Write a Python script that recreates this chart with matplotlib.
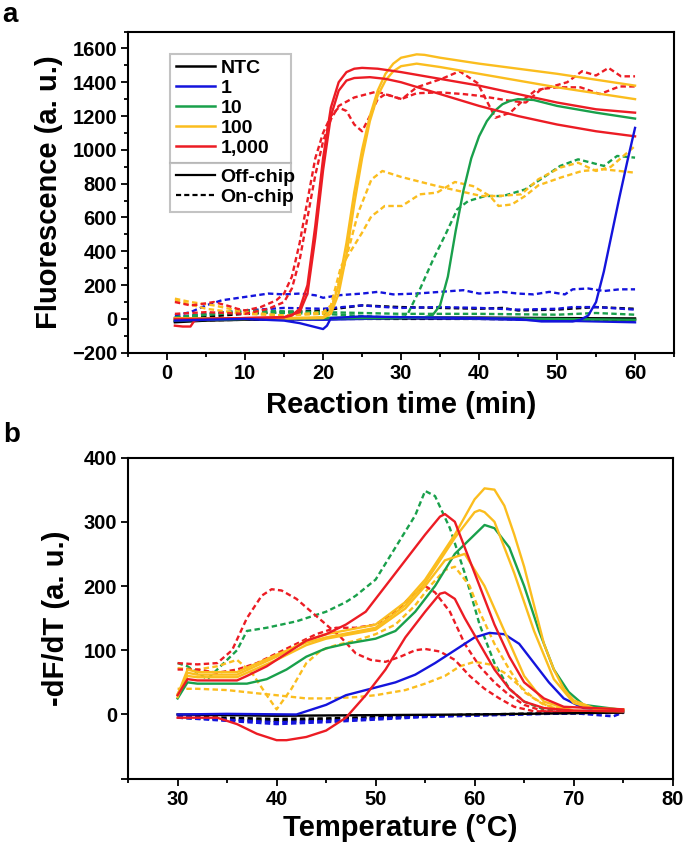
import matplotlib
matplotlib.use('Agg')
import matplotlib.pyplot as plt
from matplotlib.lines import Line2D
from matplotlib.ticker import MultipleLocator, FixedLocator

plt.rcParams['font.family'] = ['Liberation Sans', 'DejaVu Sans']
plt.rcParams['font.weight'] = 'bold'
plt.rcParams['axes.labelweight'] = 'bold'

# ---------------- panel a : amplification curves ----------------
ntc_off1_t = [1, 5, 10, 20, 30, 40, 50, 60]
ntc_off1_v = [-15, -5, 0, 5, 8, 8, 5, 3]
ntc_off2_t = [1, 5, 10, 20, 30, 40, 50, 60]
ntc_off2_v = [-20, -10, -5, 0, 3, 3, 0, -5]

blue_off1_t = [1, 5, 10, 15, 17, 20, 20.5, 21, 25, 30, 40, 45, 48, 52, 53, 54, 55, 56, 57, 58, 59, 60]
blue_off1_v = [-10, -5, 0, -10, -25, -60, -40, 5, 15, 10, 5, 0, -15, -15, -5, 20, 100, 280, 500, 720, 930, 1130]
blue_off2_t = [1, 10, 20, 30, 40, 50, 60]
blue_off2_v = [5, 0, -5, 5, 0, -10, -20]

green_off1_t = [1, 10, 20, 30, 33, 34, 35, 36, 37, 38, 39, 40, 41, 42, 43, 44, 45, 47, 50, 55, 60]
green_off1_v = [-10, 0, 5, 5, 10, 20, 80, 250, 520, 760, 950, 1080, 1170, 1230, 1270, 1290, 1300, 1295, 1260, 1220, 1185]
green_off2_t = [1, 10, 20, 30, 40, 50, 60]
green_off2_v = [-5, 0, 5, 8, 5, 0, -5]

yellow_off1_t = [1, 10, 20, 21, 22, 23, 24, 25, 26, 27, 28, 29, 30, 32, 33, 35, 40, 45, 50, 55, 60]
yellow_off1_v = [0, 0, 10, 50, 200, 450, 750, 1000, 1200, 1350, 1450, 1510, 1545, 1565, 1562, 1545, 1510, 1480, 1450, 1415, 1380]
yellow_off2_t = [1, 10, 20, 21, 22, 23, 24, 25, 26, 27, 28, 29, 30, 32, 35, 40, 45, 50, 55, 60]
yellow_off2_v = [5, 0, 5, 30, 150, 380, 680, 950, 1170, 1320, 1410, 1465, 1495, 1510, 1490, 1450, 1410, 1370, 1335, 1300]

red_off1_t = [1, 2, 3, 3.5, 5, 10, 15, 16, 17, 18, 19, 20, 21, 22, 23, 24, 25, 27, 30, 35, 40, 45, 50, 55, 60]
red_off1_v = [-40, -45, -45, -10, 0, 5, 10, 20, 60, 200, 550, 950, 1250, 1400, 1460, 1480, 1485, 1480, 1460, 1420, 1380, 1330, 1280, 1240, 1220]
red_off2_t = [1, 5, 10, 15, 17, 18, 19, 20, 21, 22, 23, 24, 26, 28, 30, 35, 40, 45, 50, 55, 60]
red_off2_v = [0, 0, 5, 10, 40, 150, 480, 880, 1200, 1350, 1410, 1425, 1430, 1420, 1400, 1330, 1260, 1200, 1150, 1110, 1080]

ntc_on1_t = [1, 10, 20, 25, 30, 35, 40, 43, 45, 50, 55, 60]
ntc_on1_v = [0, 30, 50, 80, 70, 65, 60, 65, 50, 55, 70, 60]
ntc_on2_t = [1, 10, 20, 30, 40, 50, 60]
ntc_on2_v = [-10, -5, 0, 0, 0, -5, -10]

blue_on1_t = [1, 3, 5, 7, 10, 13, 15, 17, 19, 20, 22, 25, 27, 29, 32, 35, 38, 40, 43, 45, 47, 49, 51, 52, 54, 56, 58, 60]
blue_on1_v = [20, 40, 80, 110, 130, 150, 145, 150, 140, 125, 140, 150, 160, 145, 150, 160, 170, 150, 160, 150, 145, 160, 145, 175, 180, 165, 175, 175]
blue_on2_t = [1, 5, 10, 15, 20, 25, 28, 30, 35, 40, 45, 50, 52, 55, 60]
blue_on2_v = [10, 30, 50, 65, 60, 80, 70, 65, 70, 65, 55, 60, 70, 70, 55]

green_on1_t = [1, 10, 20, 28, 30.7, 32.4, 34.1, 35.8, 37.2, 38.6, 40.8, 43.1, 45.9, 48.2, 50.4, 52.7, 54.4, 56, 57.7, 60]
green_on1_v = [10, 40, 30, 10, 15, 174, 350, 510, 648, 697, 727, 727, 766, 835, 905, 944, 924, 905, 964, 954]
green_on2_t = [1, 10, 20, 30, 40, 50, 55, 60]
green_on2_v = [10, 50, 40, 30, 30, 25, 35, 25]

yellow_on1_t = [1, 3, 6, 10, 15, 20, 21, 22.8, 24.5, 26.2, 27.6, 30, 34.6, 40.3, 42.5, 45.4, 47.6, 50.4, 52.7, 55, 56.9, 60]
yellow_on1_v = [120, 100, 80, 40, 20, 30, 60, 330, 628, 825, 875, 840, 786, 727, 727, 737, 826, 895, 924, 875, 900, 1023]
yellow_on2_t = [1, 5, 10, 15, 20, 21, 22.3, 23.4, 25, 26.2, 26.8, 27.9, 30.1, 32.4, 34.6, 36.9, 39.2, 41.4, 42.5, 44.2, 45.9, 47.6, 50.4, 53.2, 56, 60]
yellow_on2_v = [110, 60, 30, 20, 40, 80, 312, 390, 510, 608, 628, 668, 668, 737, 747, 810, 786, 727, 668, 677, 727, 790, 835, 875, 885, 865]

red_on1_t = [1, 3, 4, 6, 8, 9, 10, 12, 14, 15, 16, 17, 18, 19, 20, 21, 22, 23, 24, 25, 26, 27, 28, 30.1, 32, 35.2, 37.5, 39.8, 42.1, 44, 45.8, 47.2, 49, 51.3, 53.2, 55, 56.6, 58.2, 60]
red_on1_v = [100, 80, 85, 100, 75, 60, 50, 70, 110, 150, 250, 450, 700, 950, 1100, 1200, 1250, 1230, 1150, 1110, 1200, 1300, 1330, 1300, 1370, 1420, 1465, 1395, 1190, 1220, 1300, 1350, 1370, 1400, 1465, 1440, 1485, 1435, 1435]
red_on2_t = [1, 5, 10, 13, 15, 16, 17, 18, 19, 20, 21, 22, 24, 26.9, 30, 32, 35, 38, 40, 42, 44, 46, 48, 50, 53, 55.5, 58, 60]
red_on2_v = [30, 40, 30, 60, 100, 180, 350, 600, 850, 1050, 1180, 1260, 1310, 1345, 1300, 1335, 1340, 1330, 1320, 1305, 1290, 1280, 1360, 1370, 1370, 1330, 1375, 1375]

# ---------------- panel b : melting curves ----------------
yellow_m1_t = [30, 31, 32, 36, 40, 43, 45, 50, 53, 55, 58, 60, 61, 62, 63, 64, 65, 66, 67, 68, 69, 70, 72, 75]
yellow_m1_v = [27, 65, 62, 62, 90, 115, 125, 140, 175, 210, 280, 335, 352, 350, 325, 280, 230, 170, 110, 70, 40, 22, 10, 8]
yellow_m2_t = [30, 31, 32, 36, 40, 43, 45, 50, 53, 55, 58, 60, 60.5, 61, 62, 64, 66, 68, 70, 72, 75]
yellow_m2_v = [30, 70, 66, 66, 93, 112, 120, 135, 170, 205, 275, 315, 318, 315, 300, 220, 130, 55, 18, 9, 7]
yellow_m3_t = [30, 31, 32, 36, 40, 43, 45, 50, 53, 55, 57, 59, 61, 63, 65, 67, 70, 75]
yellow_m3_v = [32, 60, 58, 58, 85, 108, 118, 132, 165, 200, 240, 250, 200, 130, 60, 20, 6, 5]
green_m1_t = [30, 31, 32, 37, 39, 41, 43, 45, 47, 50, 52, 54, 56, 58, 60, 61, 62, 63.5, 65, 66.5, 68, 69.5, 71, 75]
green_m1_v = [25, 50, 48, 48, 55, 70, 90, 103, 110, 118, 130, 160, 200, 250, 280, 295, 290, 260, 200, 130, 70, 35, 15, 7]
red_m1_t = [30, 31, 32, 36, 37, 39, 41, 43, 45, 47, 49, 51, 53, 55, 56.5, 57, 58, 59, 60.5, 62, 63.5, 65, 67, 69, 75]
red_m1_v = [30, 55, 53, 53, 60, 75, 95, 115, 125, 140, 160, 200, 240, 280, 308, 312, 300, 260, 200, 140, 90, 50, 25, 12, 8]
red_m2_t = [30, 34, 36, 38, 40, 41, 43, 45, 47, 49, 51, 53, 55, 56.5, 57, 58, 59, 60.5, 62, 63.5, 65, 67, 70, 75]
red_m2_v = [-5, -5, -15, -30, -40, -40, -35, -25, -5, 30, 70, 120, 160, 188, 190, 180, 150, 110, 70, 40, 20, 10, 6, 5]
blue_m1_t = [30, 35, 42, 43, 45, 47, 50, 52, 54, 56, 58, 60, 61.5, 63, 64.5, 66, 67.5, 69, 71, 75]
blue_m1_v = [0, 1, 0, 5, 15, 30, 42, 50, 62, 80, 100, 120, 127, 125, 110, 80, 50, 25, 10, 5]
ntc_m1_t = [30, 40, 50, 60, 70, 75]
ntc_m1_v = [0, -2, -1, 0, 2, 3]

green_m2_t = [30, 31, 32, 33, 34, 36, 37, 39, 42, 45, 47, 48, 50, 52, 54, 55, 56, 57.5, 59, 60.5, 62, 63.5, 65, 67, 70, 75]
green_m2_v = [80, 75, 65, 55, 70, 100, 130, 135, 145, 160, 175, 185, 210, 260, 310, 348, 340, 290, 220, 140, 80, 40, 20, 8, 4, 3]
red_m3_t = [30, 32, 34, 35.5, 37, 38.5, 39.5, 40.5, 42, 43.5, 45, 46.5, 48, 49.5, 51, 52.5, 54, 55, 56.5, 58, 59.5, 61, 62.5, 64, 66, 75]
red_m3_v = [80, 78, 80, 100, 150, 185, 195, 193, 180, 160, 140, 120, 95, 85, 82, 90, 100, 102, 98, 85, 60, 40, 25, 12, 5, 3]
red_m4_t = [30, 32, 34, 36, 38, 40, 42, 44, 46, 48, 50, 52, 54, 55, 56, 57.5, 59, 60.5, 62, 63.5, 65, 67, 75]
red_m4_v = [70, 70, 65, 70, 80, 95, 110, 125, 135, 135, 140, 160, 190, 200, 190, 160, 110, 75, 50, 30, 15, 5, 3]
yellow_m4_t = [30, 32, 34, 36, 37.5, 39, 40, 41.5, 43, 44.5, 46, 48, 50, 52, 54, 55.5, 57, 58, 59.5, 60.5, 62, 63.5, 65, 67, 70, 75]
yellow_m4_v = [72, 70, 75, 85, 65, 30, 8, 40, 80, 100, 108, 115, 125, 140, 170, 200, 225, 230, 200, 160, 110, 70, 35, 15, 5, 3]
yellow_m5_t = [30, 32, 35, 38, 40, 43, 45, 48, 50, 53, 55, 57, 58.5, 60, 61.5, 63, 64.5, 66, 67.5, 70, 75]
yellow_m5_v = [40, 40, 38, 33, 30, 25, 25, 27, 30, 38, 48, 60, 75, 82, 78, 65, 45, 25, 12, 5, 4]
blue_m2_t = [30, 35, 40, 45, 50, 55, 60, 70, 74, 75]
blue_m2_v = [-5, -10, -15, -12, -8, -4, -2, 2, -3, 3]
blue_m3_t = [30, 35, 40, 45, 50, 55, 60, 70, 75]
blue_m3_v = [-3, -8, -12, -10, -6, -3, -1, 2, 2]
ntc_m2_t = [30, 35, 40, 45, 50, 55, 60, 70, 75]
ntc_m2_v = [-5, -8, -10, -8, -5, -3, 0, 2, 3]
ntc_m3_t = [30, 35, 40, 45, 50, 55, 60, 70, 75]
ntc_m3_v = [-3, -5, -7, -6, -4, -2, 0, 2, 3]

legend_labels = ['NTC', '1', '10', '100', '1,000']
type_labels = ['Off-chip', 'On-chip']

BLACK = '#000000'
BLUE = '#1414dc'
GREEN = '#19a04b'
YELLOW = '#fbbd1e'
RED = '#ec1c24'
colors = [BLACK, BLUE, GREEN, YELLOW, RED]
DASH = (0, (2.3, 1.4))

fig = plt.figure(figsize=(6.85, 8.52), dpi=100)
ax1 = fig.add_axes([0.187, 0.586, 0.797, 0.377])
ax2 = fig.add_axes([0.187, 0.086, 0.795, 0.377])

solid_a = [(ntc_off1_t, ntc_off1_v, BLACK), (ntc_off2_t, ntc_off2_v, BLACK),
           (blue_off2_t, blue_off2_v, BLUE), (green_off2_t, green_off2_v, GREEN),
           (green_off1_t, green_off1_v, GREEN), (yellow_off1_t, yellow_off1_v, YELLOW),
           (yellow_off2_t, yellow_off2_v, YELLOW), (red_off1_t, red_off1_v, RED),
           (red_off2_t, red_off2_v, RED), (blue_off1_t, blue_off1_v, BLUE)]
dash_a = [(ntc_on1_t, ntc_on1_v, BLACK), (ntc_on2_t, ntc_on2_v, BLACK),
          (blue_on1_t, blue_on1_v, BLUE), (blue_on2_t, blue_on2_v, BLUE),
          (green_on1_t, green_on1_v, GREEN), (green_on2_t, green_on2_v, GREEN),
          (yellow_on1_t, yellow_on1_v, YELLOW), (yellow_on2_t, yellow_on2_v, YELLOW),
          (red_on1_t, red_on1_v, RED), (red_on2_t, red_on2_v, RED)]
for t, v, c in dash_a:
    ax1.plot(t, v, color=c, lw=1.7, linestyle=DASH)
for t, v, c in solid_a:
    ax1.plot(t, v, color=c, lw=1.7)

solid_b = [(ntc_m1_t, ntc_m1_v, BLACK), (blue_m1_t, blue_m1_v, BLUE),
           (green_m1_t, green_m1_v, GREEN), (yellow_m3_t, yellow_m3_v, YELLOW),
           (yellow_m2_t, yellow_m2_v, YELLOW), (yellow_m1_t, yellow_m1_v, YELLOW),
           (red_m1_t, red_m1_v, RED), (red_m2_t, red_m2_v, RED)]
dash_b = [(ntc_m2_t, ntc_m2_v, BLACK), (ntc_m3_t, ntc_m3_v, BLACK),
          (blue_m2_t, blue_m2_v, BLUE), (blue_m3_t, blue_m3_v, BLUE),
          (green_m2_t, green_m2_v, GREEN), (yellow_m4_t, yellow_m4_v, YELLOW),
          (yellow_m5_t, yellow_m5_v, YELLOW), (red_m3_t, red_m3_v, RED),
          (red_m4_t, red_m4_v, RED)]
for t, v, c in dash_b:
    ax2.plot(t, v, color=c, lw=1.7, linestyle=DASH)
for t, v, c in solid_b:
    ax2.plot(t, v, color=c, lw=1.7)

# axes styling
for ax in (ax1, ax2):
    for s in ax.spines.values():
        s.set_linewidth(1.5)
    ax.tick_params(which='both', direction='out', top=False, right=False,
                   width=1.3, labelsize=14.5, pad=3)
    ax.tick_params(which='major', length=5)
    ax.tick_params(which='minor', length=3)

ax1.set_xlim(-5, 65)
ax1.set_ylim(-200, 1700)
ax1.xaxis.set_major_locator(FixedLocator([0, 10, 20, 30, 40, 50, 60]))
ax1.xaxis.set_minor_locator(MultipleLocator(5))
ax1.yaxis.set_major_locator(FixedLocator(list(range(-200, 1601, 200))))
ax1.yaxis.set_minor_locator(MultipleLocator(100))
ax1.set_xlabel('Reaction time (min)', fontsize=21, labelpad=6)
ax1.set_ylabel('Fluorescence (a. u.)', fontsize=21, labelpad=6)

ax2.set_xlim(25, 80)
ax2.set_ylim(-100, 400)
ax2.xaxis.set_major_locator(FixedLocator([30, 40, 50, 60, 70, 80]))
ax2.xaxis.set_minor_locator(MultipleLocator(5))
ax2.yaxis.set_major_locator(FixedLocator([-100, 0, 100, 200, 300, 400]))
ax2.set_yticklabels(['', '0', '100', '200', '300', '400'])
ax2.set_xlabel('Temperature (\u00b0C)', fontsize=21, labelpad=4)
ax2.set_ylabel('-dF/dT (a. u.)', fontsize=21, labelpad=10)

# legends
h1 = [Line2D([0], [0], color=c, lw=1.8) for c in colors]
h2 = [Line2D([0], [0], color=BLACK, lw=1.6),
      Line2D([0], [0], color=BLACK, lw=1.6, linestyle=DASH)]
common = dict(fontsize=14, frameon=True, fancybox=False, edgecolor='#b4b4b4',
              handlelength=2.0, handletextpad=0.3, labelspacing=0.12,
              borderpad=0.3, borderaxespad=0, mode='expand')
leg1 = ax1.legend(h1, legend_labels, loc='lower left',
                  bbox_to_anchor=(0.077, 0.592, 0.222, 0.1), **common)
leg1.get_frame().set_linewidth(1.5)
ax1.add_artist(leg1)
leg2 = ax1.legend(h2, type_labels, loc='upper left',
                  bbox_to_anchor=(0.077, 0.492, 0.222, 0.1), **common)
leg2.get_frame().set_linewidth(1.5)

fig.text(0.004, 0.982, 'a', fontsize=20, fontweight='bold', va='center')
fig.text(0.004, 0.489, 'b', fontsize=20, fontweight='bold', va='center')

fig.savefig('out.png', dpi=100)
